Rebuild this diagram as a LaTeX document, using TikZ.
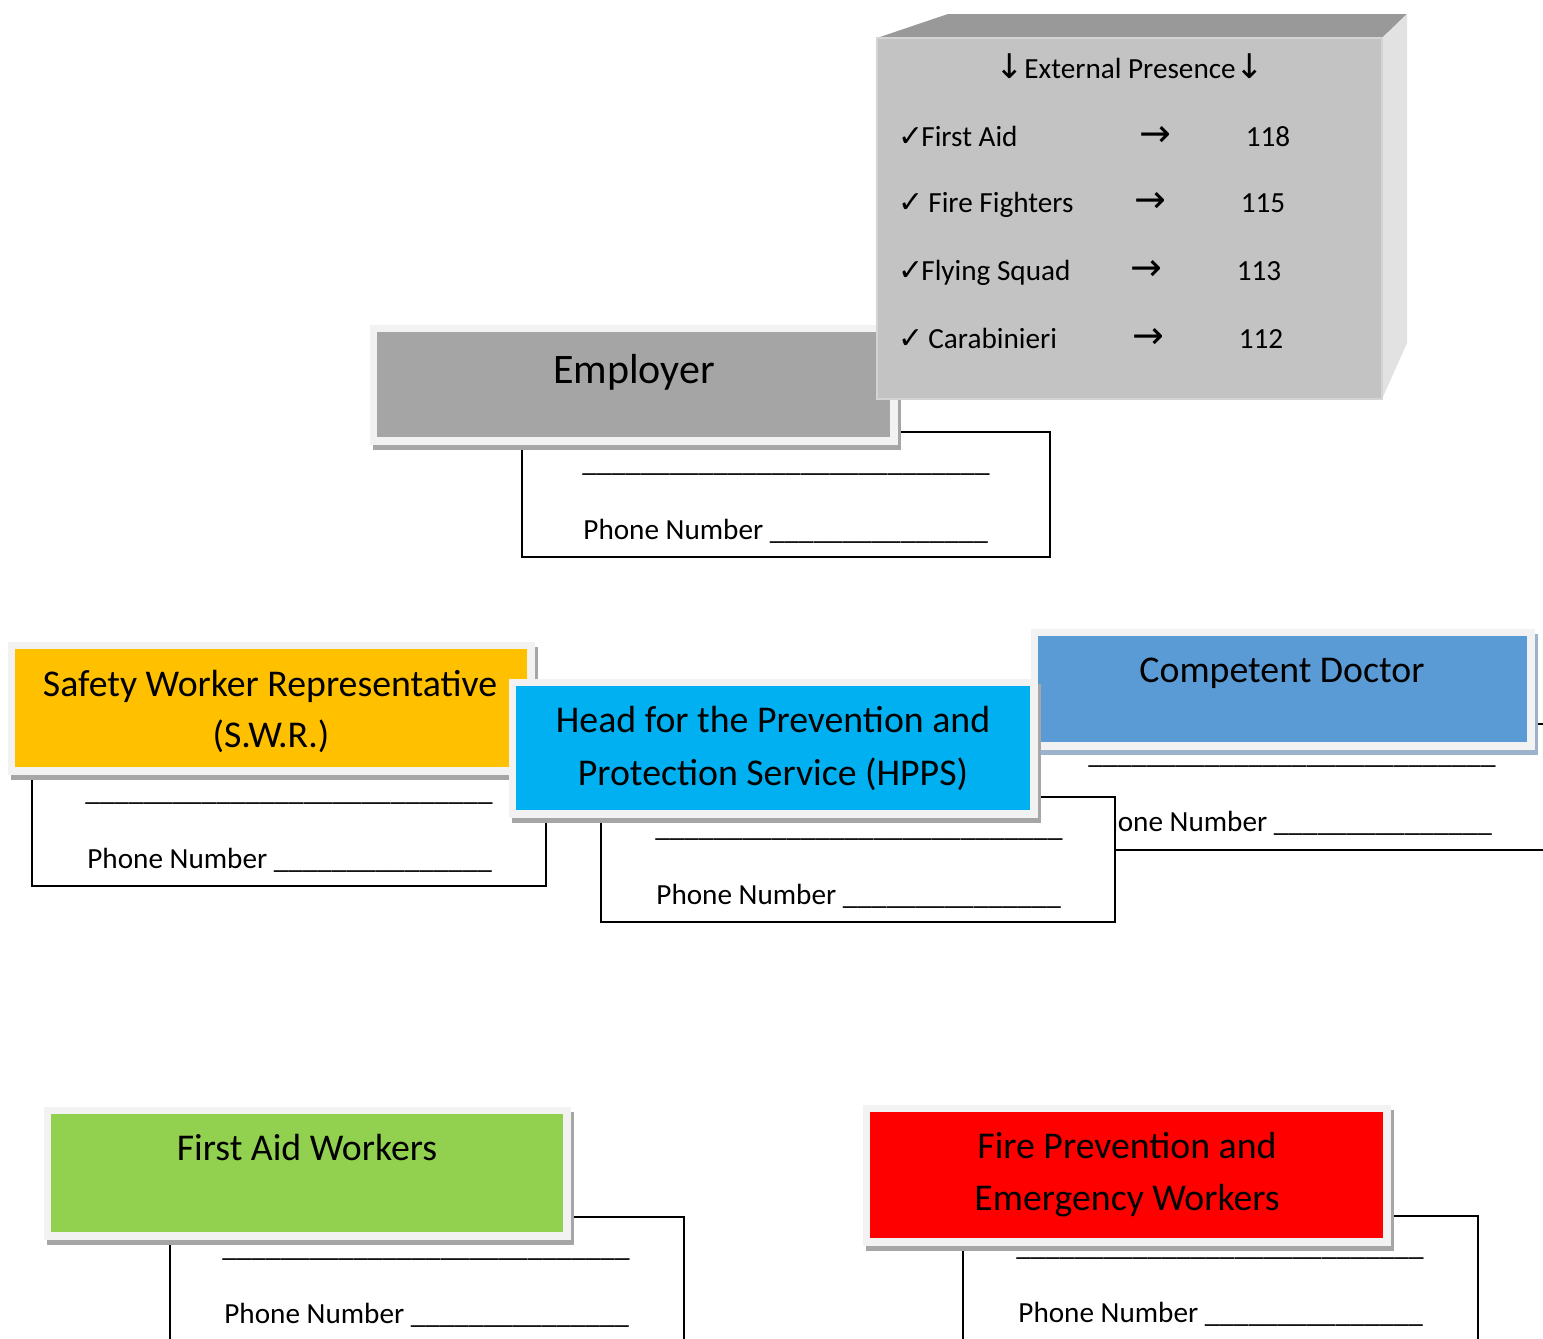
\documentclass[tikz,border=0pt]{standalone}
\usepackage{fontspec}
\setmainfont{Carlito}
\newfontfamily\dejavu{DejaVu Sans}
\definecolor{outerc}{HTML}{F2F2F2}
\definecolor{shadc}{HTML}{A6A6A6}
\definecolor{shadblue}{HTML}{9DB3CC}
\definecolor{empc}{HTML}{A5A5A5}
\definecolor{swrc}{HTML}{FFC000}
\definecolor{hppsc}{HTML}{00B0F0}
\definecolor{docc}{HTML}{5B9BD5}
\definecolor{fac}{HTML}{92D050}
\definecolor{firec}{HTML}{FF0000}
\definecolor{exfront}{HTML}{C3C3C3}
\definecolor{extop}{HTML}{999999}
\definecolor{exright}{HTML}{E2E2E2}
\definecolor{exedge}{HTML}{D4D4D4}
\def\myuA{\_\_\_\_\_\_\_\_\_\_\_\_\_\_\_\_\_\_\_\_\_\_\_\_\_\_\_\_}
\def\myuB{\_\_\_\_\_\_\_\_\_\_\_\_\_\_\_}
\newcommand\mycard[6]{%
  \fill[#6] (#1+3,#2+5) rectangle (#3+3,#4+5);
  \fill[outerc] (#1,#2) rectangle (#3,#4);
  \fill[#5] (#1+7,#2+7) rectangle (#3-8,#4-8);
}
\tikzset{
  frame/.style={draw=black, line width=1pt, fill=white},
  small/.style={font=\fontsize{14.6}{17}\selectfont, inner sep=0pt},
  title/.style={font=\fontsize{18.9}{22}\selectfont, inner sep=0pt, anchor=base},
  bigtitle/.style={font=\fontsize{21}{24}\selectfont, inner sep=0pt, anchor=base},
  chk/.style={font=\dejavu\fontsize{15}{17}\selectfont, inner sep=0pt, anchor=base west},
  arr/.style={font=\dejavu\fontsize{19}{22}\selectfont, inner sep=0pt, anchor=center},
}
\begin{document}
\begin{tikzpicture}[x=0.5pt,y=-0.5pt]
\useasboundingbox (0,0) rectangle (1543,1339);
\clip (0,0) rectangle (1543,1339);
\fill[white] (0,0) rectangle (1543,1339);

% ---------- Employer ----------
\draw[frame] (522,432) rectangle (1050,557);
\node[small, anchor=base west] (empl) at (582,471) {\myuA};
\node[small, anchor=base west] (empp) at (583,539) {Phone Number \myuB};
\mycard{370}{325}{898}{445}{empc}{shadc}
\node[bigtitle] (emp) at (634,383) {Employer};

% ---------- External presence ----------
\fill[extop] (877,38) -- (948,14) -- (1407,14) -- (1382,38) -- cycle;
\fill[exright] (1382,38) -- (1407,14) -- (1407,343) -- (1382,399) -- cycle;
\filldraw[fill=exfront, draw=exedge, line width=1pt] (877,38) rectangle (1382,399);
\node[small, anchor=base] (ext) at (1130,78) {{\dejavu\fontsize{17}{20}\selectfont ↓}External Presence{\dejavu\fontsize{17}{20}\selectfont ↓}};
\node[chk] (c1) at (898,146) {✓};
\node[small, anchor=base west] (l1) at (921,146) {First Aid};
\node[arr] (a1) at (1155,136) {→};
\node[small, anchor=base] (n1) at (1268,146) {118};
\node[chk] (c2) at (898,212) {✓};
\node[small, anchor=base west] (l2) at (928,212) {Fire Fighters};
\node[arr] (a2) at (1150,202) {→};
\node[small, anchor=base] (n2) at (1263,212) {115};
\node[chk] (c3) at (898,280) {✓};
\node[small, anchor=base west] (l3) at (921,280) {Flying Squad};
\node[arr] (a3) at (1146,270) {→};
\node[small, anchor=base] (n3) at (1259,280) {113};
\node[chk] (c4) at (898,348) {✓};
\node[small, anchor=base west] (l4) at (928,348) {Carabinieri};
\node[arr] (a4) at (1148,338) {→};
\node[small, anchor=base] (n4) at (1261,348) {112};

% ---------- Competent Doctor ----------
\draw[frame] (1035,724) rectangle (1549,850);
\node[small, anchor=base west] (docl) at (1088,763) {\myuA};
\node[small, anchor=base west] (docp) at (1087,831) {Phone Number \myuB};
\mycard{1031}{629}{1535}{750}{docc}{shadblue}
\node[title] (doc) at (1282,682) {Competent Doctor};

% ---------- SWR ----------
\draw[frame] (32,760) rectangle (546,886);
\node[small, anchor=base west] (swrl) at (85,800) {\myuA};
\node[small, anchor=base west] (swrp) at (87,868) {Phone Number \myuB};
\mycard{8}{642}{535}{775}{swrc}{shadc}
\node[title] (swr1) at (270,696) {Safety Worker Representative};
\node[title] (swr2) at (271,747) {(S.W.R.)};

% ---------- HPPS ----------
\draw[frame] (601,797) rectangle (1115,922);
\node[small, anchor=base west] (hppsl) at (655,836) {\myuA};
\node[small, anchor=base west] (hppsp) at (656,904) {Phone Number \myuB};
\mycard{509}{679}{1038}{818}{hppsc}{shadc}
\node[title] (hpps1) at (773,732) {Head for the Prevention and};
\node[title] (hpps2) at (773,785) {Protection Service (HPPS)};

% ---------- First Aid Workers ----------
\draw[frame] (170,1217) rectangle (684,1360);
\node[small, anchor=base west] (fal) at (222,1256) {\myuA};
\node[small, anchor=base west] (fap) at (224,1323) {Phone Number \myuB};
\mycard{44}{1107}{571}{1240}{fac}{shadc}
\node[title] (fa) at (307,1160) {First Aid Workers};

% ---------- Fire Prevention ----------
\draw[frame] (963,1216) rectangle (1478,1360);
\node[small, anchor=base west] (firel) at (1016,1255) {\myuA};
\node[small, anchor=base west] (firep) at (1018,1322) {Phone Number \myuB};
\mycard{863}{1105}{1391}{1246}{firec}{shadc}
\node[title] (fire1) at (1127,1158) {Fire Prevention and};
\node[title] (fire2) at (1127,1210) {Emergency Workers};
\end{tikzpicture}
\end{document}
